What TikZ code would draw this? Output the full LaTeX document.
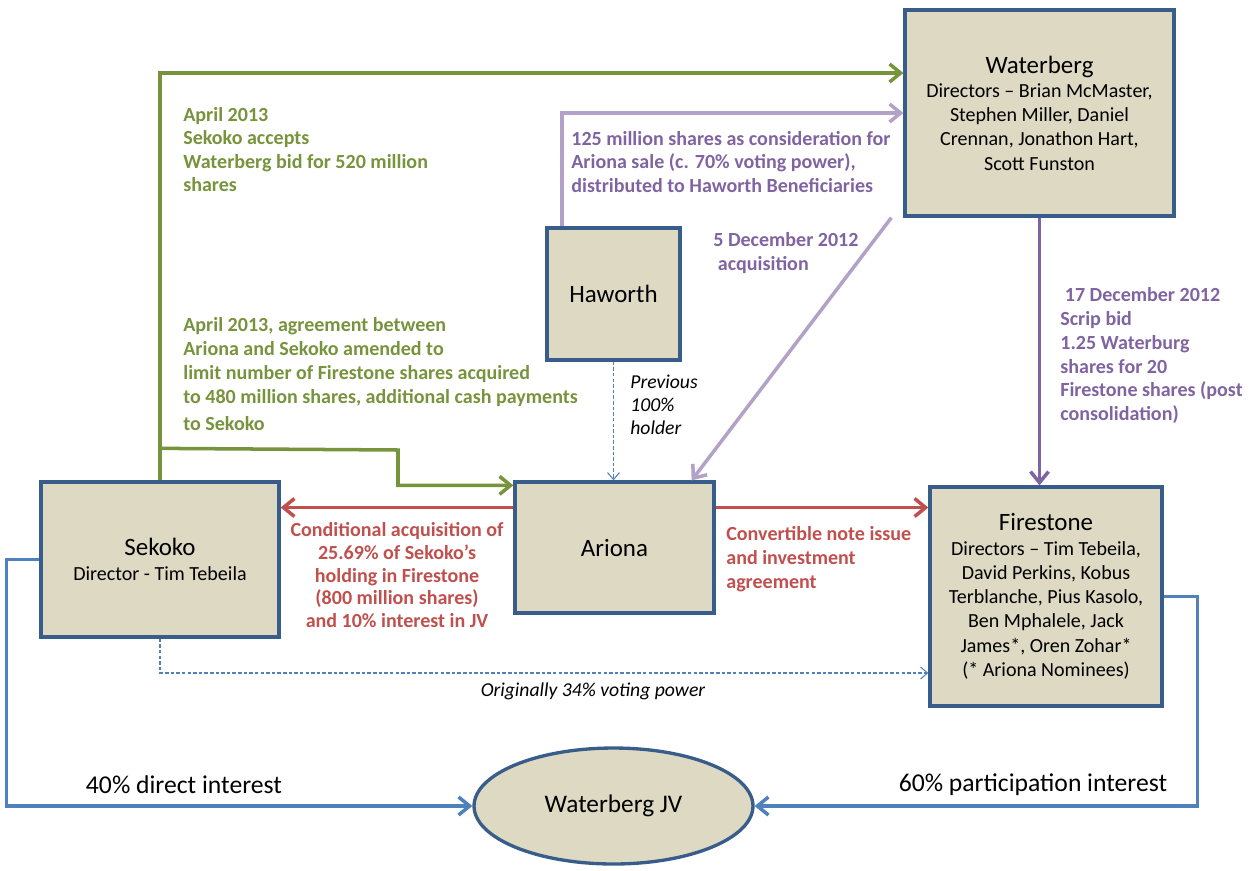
\documentclass[tikz,border=0pt]{standalone}
\usepackage{fontspec}
\setmainfont{Carlito}
\usetikzlibrary{arrows.meta,shapes.geometric}

\definecolor{boxfill}{HTML}{DDD9C3}
\definecolor{boxline}{HTML}{385D8A}
\definecolor{dealgreen}{HTML}{77933C}
\definecolor{lilac}{HTML}{B3A2C7}
\definecolor{plum}{HTML}{8064A2}
\definecolor{dealred}{HTML}{C0504D}
\definecolor{holdblue}{HTML}{4F81BD}

\newcommand{\boxtitle}[1]{{\fontsize{14.2}{17}\selectfont #1}}

\tikzset{
  entity/.style={draw=boxline, fill=boxfill, line width=1.9pt, align=center, inner sep=2pt,
    font=\fontsize{11.4}{13.8}\selectfont},
  jvshape/.style={ellipse, draw=boxline, fill=boxfill, line width=1.9pt, inner sep=0pt,
    minimum width=5.58cm, minimum height=2.32cm, font=\fontsize{14.4}{17}\selectfont},
  bigtip/.style={-{Straight Barb[length=2.2mm,width=3.6mm]}},
  smalltip/.style={-{Straight Barb[length=1.4mm,width=2.4mm]}},
  link/.style={line width=2pt, bigtip},
  thinlink/.style={draw=holdblue, line width=0.6pt, dash pattern=on 2pt off 1.2pt, smalltip},
  note/.style={font=\bfseries\fontsize{11.4}{13.6}\selectfont, align=left, inner sep=0pt, anchor=north west},
  remark/.style={font=\itshape\fontsize{11.2}{13}\selectfont, inner sep=0pt},
  share/.style={font=\fontsize{14.6}{17}\selectfont, inner sep=0pt}
}

\begin{document}
\begin{tikzpicture}[x=0.02cm, y=-0.02cm]
\useasboundingbox (0,0) rectangle (1251,870);

% companies
\draw (1039.5,113) node (waterberg) [entity, minimum width=5.38cm, minimum height=4.12cm]
  {\boxtitle{Waterberg}\\Directors -- Brian McMaster,\\Stephen Miller, Daniel\\Crennan, Jonathon Hart,\\Scott Funston};
\draw (613.5,294) node (haworth) [entity, minimum width=2.66cm, minimum height=2.64cm] {\boxtitle{Haworth}};
\draw (160,559.5) node (sekoko) [entity, minimum width=4.76cm, minimum height=3.1cm]
  {\boxtitle{Sekoko}\\Director - Tim Tebeila};
\draw (614.5,547.5) node (ariona) [entity, minimum width=3.98cm, minimum height=2.62cm] {\boxtitle{Ariona}};
\draw (1046,596.5) node (firestone) [entity, minimum width=4.64cm, minimum height=4.38cm]
  {\boxtitle{Firestone}\\Directors -- Tim Tebeila,\\David Perkins, Kobus\\Terblanche, Pius Kasolo,\\Ben Mphalele, Jack\\James*, Oren Zohar*\\(* Ariona Nominees)};
\draw (613.5,806) node (jv) [jvshape] {Waterberg JV};

% Sekoko / Waterberg / Ariona deals
\draw[link, dealgreen] (sekoko.north) |- ([yshift=0.8cm]waterberg.west);
\coordinate (gbend) at (398,450);
\draw[link, dealgreen] ([yshift=0.64cm]sekoko.north) -- (gbend) |- ([yshift=-0.1cm]ariona.north west);
\draw[link, lilac] ([xshift=-1.03cm]haworth.north) |- (waterberg.west);
\draw[link, lilac] ([xshift=-0.24cm]waterberg.south west) -- ([xshift=-0.48cm]ariona.north east);
\draw[link, plum] (waterberg.south) -- (waterberg.south |- firestone.north);
\draw[link, dealred] ([yshift=0.8cm]ariona.west) -- ([yshift=0.8cm]ariona.west -| sekoko.east);
\draw[link, dealred] ([yshift=0.8cm]ariona.east) -- ([yshift=0.8cm]ariona.east -| firestone.west);

% holdings
\draw[thinlink] (haworth.south) -- (haworth.south |- ariona.north);
\draw[thinlink] (sekoko.south) |- ([yshift=-1.53cm]firestone.west);
\draw[link, holdblue] (sekoko.west) -- ++(-0.66cm,0) |- (jv.west);
\draw[link, holdblue] (firestone.east) -- ++(0.68cm,0) |- (jv.east);

% labels
\draw (183,107) node (bidnote) [note, text=dealgreen, font=\bfseries\fontsize{11.4}{13.3}\selectfont]
  {April 2013\\Sekoko accepts\\Waterberg bid for 520 million\\shares};
\draw (183,317) node (amendnote) [note, text=dealgreen]
  {April 2013, agreement between\\Ariona and Sekoko amended to\\limit number of Firestone shares acquired\\to 480 million shares, additional cash payments\\[2pt]to Sekoko};
\draw (571,131) node (considnote) [note, text=plum, font=\bfseries\fontsize{11.4}{13.3}\selectfont]
  {125 million shares as consideration for\\Ariona sale (c. 70\% voting power),\\distributed to Haworth Beneficiaries};
\draw (713,232) node (acqnote) [note, text=plum] {5 December 2012\\\ acquisition};
\draw (1060,287) node (scripnote) [note, text=plum]
  {\ 17 December 2012\\Scrip bid\\1.25 Waterburg\\shares for 20\\Firestone shares (post\\consolidation)};
\draw (397,522) node (condnote) [note, anchor=north, align=center, text=dealred,
  font=\bfseries\fontsize{11.4}{13}\selectfont]
  {Conditional acquisition of\\25.69\% of Sekoko’s\\holding in Firestone\\(800 million shares)\\and 10\% interest in JV};
\draw (726,526) node (notenote) [note, text=dealred]
  {Convertible note issue\\and investment\\agreement};
\draw (630,375) node (prevnote) [remark, anchor=north west, align=left] {Previous\\100\%\\holder};
\draw (593,691) node (orignote) [remark] {Originally 34\% voting power};
\draw (184,785) node (directnote) [share] {40\% direct interest};
\draw (1033,785) node (partnote) [share] {60\% participation interest};

\end{tikzpicture}
\end{document}
